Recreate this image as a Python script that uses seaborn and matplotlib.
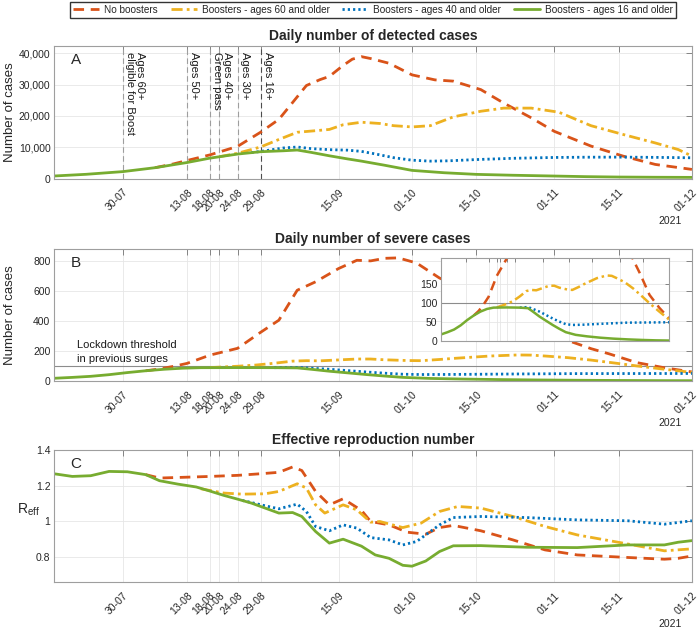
import matplotlib
matplotlib.use("Agg")
import matplotlib.pyplot as plt
import matplotlib.transforms as mtransforms
from matplotlib.ticker import FuncFormatter
import numpy as np
import pandas as pd
import seaborn as sns

START = pd.Timestamp("2021-07-15")
END = pd.Timestamp("2021-12-01")

scenarios = ["No boosters", "Boosters - ages 60 and older",
             "Boosters - ages 40 and older", "Boosters - ages 16 and older"]
colors = ["#D95319", "#EDB120", "#0072BD", "#77AC30"]

tick_dates = ["2021-07-30", "2021-08-13", "2021-08-18", "2021-08-20", "2021-08-24",
              "2021-08-29", "2021-09-15", "2021-10-01", "2021-10-15", "2021-11-01",
              "2021-11-15", "2021-12-01"]
tick_labels = ["30-07", "13-08", "18-08", "20-08", "24-08", "29-08",
               "15-09", "01-10", "15-10", "01-11", "15-11", "01-12"]

event_dates = ["2021-07-30", "2021-08-13", "2021-08-18", "2021-08-20", "2021-08-24", "2021-08-29"]
label_dates = ["2021-07-30", "2021-08-13", "2021-08-18", "2021-08-24", "2021-08-29"]
event_labels = ["Ages 60+\neligible for Boost", "Ages 50+", "Ages 40+\nGreen pass",
                "Ages 30+", "Ages 16+"]

# days after 15-07-2021
# A - daily detected cases
a_red_days = [22, 26, 29, 34, 40, 45, 49, 52, 55, 58, 60, 63, 65, 67, 69, 73, 78, 83, 87,
              93, 98, 104, 109, 117, 124, 131, 139]
a_red = [3500, 4700, 5800, 7600, 10300, 14800, 18900, 24300, 29700, 31600, 32600, 36100,
         38100, 38900, 38300, 36800, 33100, 31500, 31100, 28400, 24100, 19400, 15100,
         10400, 7200, 4550, 2960]
a_yellow_days = [36, 40, 45, 49, 53, 57, 60, 63, 67, 71, 74, 78, 82, 87, 93, 98, 104, 110,
                 117, 124, 131, 136, 139]
a_yellow = [7000, 8100, 10100, 12500, 14800, 15300, 15700, 17200, 18000, 17600, 16900,
            16500, 16900, 19700, 21500, 22500, 22500, 21200, 16900, 14100, 11400, 9300, 7200]
a_blue_days = [43, 46, 50, 53, 56, 60, 64, 67, 70, 74, 78, 82, 86, 92, 100, 109, 116, 123,
               131, 139]
a_blue = [8300, 8900, 9800, 10100, 9600, 9250, 9100, 8700, 7900, 6700, 5900, 5600, 5700,
          6100, 6500, 6770, 6850, 6880, 6800, 6670]
a_green_days = [0, 7, 15, 22, 29, 34, 40, 45, 50, 53, 56, 60, 64, 67, 72, 78, 85, 92, 100,
                109, 116, 123, 131, 139]
a_green = [860, 1400, 2260, 3500, 5160, 6560, 7850, 8600, 8900, 9140, 8400, 7300, 6300,
           5600, 4300, 2650, 1900, 1380, 1100, 850, 650, 530, 460, 420]

# B - daily severe cases
b_red_days = [20, 23, 26, 29, 34, 40, 45, 49, 53, 57, 62, 66, 69, 72, 75, 79, 84, 88, 92,
              96, 100, 104, 108, 113, 117, 121, 127, 133, 139]
b_red = [68, 80, 97, 117, 172, 217, 323, 404, 603, 659, 747, 802, 798, 815, 818, 784, 684,
         630, 570, 500, 430, 370, 315, 258, 215, 180, 122, 88, 60]
b_yellow_days = [34, 36, 40, 44, 48, 52, 55, 58, 62, 66, 69, 72, 77, 80, 84, 87, 91, 95,
                 101, 104, 107, 112, 117, 122, 127, 133, 139]
b_yellow = [89, 92, 98, 106, 118, 132, 135, 134, 140, 146, 146, 141, 136, 135, 143, 150,
            158, 166, 173, 172, 166, 155, 139, 120, 100, 78, 57]
b_blue_days = [48, 53, 56, 60, 64, 68, 72, 76, 80, 86, 93, 100, 113, 126, 139]
b_blue = [88.5, 90, 85, 78, 69, 60, 52, 45, 43, 43.5, 45, 46.5, 49, 49.5, 50]
b_green_days = [0, 4, 8, 12, 16, 20, 24, 28, 32, 40, 48, 53, 56, 60, 64, 68, 72, 76, 82,
                89, 97, 105, 114, 123, 131, 139]
b_green = [18, 24, 31, 42, 56, 68, 78, 85, 88.5, 89, 88.5, 87, 78, 65, 54, 43, 33, 24, 17,
           13, 9.5, 7, 5, 3.5, 2.5, 2]
lockdown_threshold = 100

# C - effective reproduction number
c_red_days = [20, 23, 28, 34, 40, 45, 49, 52, 54, 57, 60, 63, 67, 69, 73, 77, 81, 84, 87,
              93, 100, 107, 114, 124, 133, 136, 139]
c_red = [1.262, 1.243, 1.247, 1.252, 1.258, 1.267, 1.275, 1.305, 1.285, 1.168, 1.093,
         1.127, 1.062, 1.000, 0.981, 0.940, 0.929, 0.966, 0.978, 0.948, 0.897, 0.841,
         0.813, 0.800, 0.789, 0.794, 0.807]
c_yellow_days = [32, 37, 41, 46, 49, 53, 55, 57, 59, 63, 66, 69, 71, 76, 80, 84, 88, 93,
                 100, 107, 114, 124, 133, 139]
c_yellow = [1.183, 1.159, 1.153, 1.155, 1.168, 1.211, 1.187, 1.093, 1.047, 1.093, 1.065,
            0.996, 1.000, 0.966, 0.991, 1.056, 1.084, 1.075, 1.028, 0.972, 0.925, 0.879,
            0.836, 0.847]
c_blue_days = [41, 46, 49, 53, 55, 57, 60, 63, 66, 69, 73, 76, 79, 84, 87, 93, 103, 114,
               125, 133, 139]
c_blue = [1.118, 1.088, 1.071, 1.097, 1.056, 0.972, 0.948, 0.981, 0.963, 0.910, 0.897,
          0.869, 0.888, 0.981, 1.022, 1.028, 1.022, 1.009, 1.004, 0.985, 1.004]
c_green_days = [0, 4, 8, 12, 16, 20, 23, 27, 31, 34, 37, 40, 43, 46, 49, 52, 54, 57, 60,
                63, 67, 70, 73, 76, 78, 81, 84, 87, 93, 103, 114, 125, 133, 136, 139]
c_green = [1.267, 1.252, 1.256, 1.280, 1.278, 1.262, 1.228, 1.209, 1.193, 1.170, 1.146,
           1.125, 1.103, 1.075, 1.047, 1.050, 1.028, 0.944, 0.879, 0.901, 0.862, 0.813,
           0.794, 0.755, 0.750, 0.779, 0.832, 0.864, 0.865, 0.856, 0.854, 0.869, 0.869,
           0.884, 0.893]


def frame(days_list, values_list):
    parts = []
    for name, d, v in zip(scenarios, days_list, values_list):
        parts.append(pd.DataFrame({
            "date": START + pd.to_timedelta(np.array(d, dtype=float), unit="D"),
            "value": v,
            "scenario": name,
        }))
    return pd.concat(parts, ignore_index=True)


df_a = frame([a_red_days, a_yellow_days, a_blue_days, a_green_days],
             [a_red, a_yellow, a_blue, a_green])
df_b = frame([b_red_days, b_yellow_days, b_blue_days, b_green_days],
             [b_red, b_yellow, b_blue, b_green])
df_c = frame([c_red_days, c_yellow_days, c_blue_days, c_green_days],
             [c_red, c_yellow, c_blue, c_green])

sns.set_style("white")
plt.rcParams["font.family"] = ["Liberation Sans", "DejaVu Sans"]
plt.rcParams["axes.edgecolor"] = "0.62"
plt.rcParams["axes.linewidth"] = 0.8

dash_map = dict(zip(scenarios, [(3.8, 2.4), (4, 1.5, 1, 1.5), (0.8, 1.1), ""]))
ticks = pd.to_datetime(tick_dates)

fig = plt.figure(figsize=(7, 6.31), dpi=100)
ax_a = fig.add_axes([0.0771, 0.7168, 0.9114, 0.2103])
ax_b = fig.add_axes([0.0771, 0.3962, 0.9114, 0.2092])
ax_c = fig.add_axes([0.0771, 0.0772, 0.9114, 0.2097])


def draw(ax, df, lw=2.0):
    sns.lineplot(data=df, x="date", y="value", hue="scenario", style="scenario",
                 hue_order=scenarios, style_order=scenarios, palette=colors,
                 dashes=dash_map, linewidth=lw, estimator=None, sort=False,
                 legend=False, ax=ax)


def style_axes(ax, labels=True):
    ax.set_xlim(START, END)
    ax.set_xticks(ticks)
    ax.grid(True, color="0.9", lw=0.6)
    ax.set_axisbelow(True)
    ax.tick_params(direction="in", length=4, width=0.6, color="0.45",
                   labelsize=7.5, labelcolor="0.15", top=True, right=True, pad=2.5)
    ax.set_xlabel("")
    ax.set_ylabel("")
    if labels:
        ax.set_xticklabels(tick_labels)
        off = mtransforms.ScaledTranslation(4 / 72, 0, fig.dpi_scale_trans)
        for lab in ax.get_xticklabels():
            lab.set_rotation(45)
            lab.set_ha("right")
            lab.set_va("top")
            lab.set_rotation_mode("anchor")
            lab.set_transform(lab.get_transform() + off)
        ax.tick_params(axis="x", pad=6)
        ax.text(0.966, -0.316, "2021", transform=ax.transAxes, ha="center",
                va="center", fontsize=7.5, color="0.15")
    else:
        ax.set_xticklabels([])


def cases_label(ax):
    ax.set_ylabel("Number of cases", fontsize=9.5, color="0.15", va="center")
    ax.yaxis.set_label_coords(-0.069, 0.5)


# Panel A
draw(ax_a, df_a)
style_axes(ax_a)
ax_a.set_ylim(0, 42300)
ax_a.set_yticks([0, 10000, 20000, 30000, 40000])
ax_a.yaxis.set_major_formatter(FuncFormatter(lambda v, p: f"{v:,.0f}"))
for i, dt in enumerate(event_dates):
    ax_a.axvline(pd.Timestamp(dt), color="0.3" if i == len(event_dates) - 1 else "0.62",
                 ls=(0, (5, 3)), lw=0.8, zorder=1.5)
for dt, lab in zip(label_dates, event_labels):
    ax_a.annotate(lab, xy=(pd.Timestamp(dt), 1.0), xycoords=("data", "axes fraction"),
                  xytext=(1.5, -4), textcoords="offset points", rotation=270,
                  ha="left", va="top", fontsize=8, linespacing=1.0, color="0.1")
ax_a.set_title("Daily number of detected cases", fontsize=10, fontweight="bold", pad=4)
cases_label(ax_a)
ax_a.text(0.026, 0.95, "A", transform=ax_a.transAxes, ha="left", va="top", fontsize=11)

# Panel B
ax_b.axhline(lockdown_threshold, color="0.55", lw=0.8, zorder=1.5)
draw(ax_b, df_b)
style_axes(ax_b)
ax_b.set_ylim(0, 877)
ax_b.set_yticks([0, 200, 400, 600, 800])
ax_b.text(pd.Timestamp("2021-07-20"), 112, "Lockdown threshold\nin previous surges",
          fontsize=8, ha="left", va="bottom", color="0.1", linespacing=1.5)
ax_b.set_title("Daily number of severe cases", fontsize=10, fontweight="bold", pad=4)
cases_label(ax_b)
ax_b.text(0.026, 0.95, "B", transform=ax_b.transAxes, ha="left", va="top", fontsize=11)

# inset of panel B
ax_in = fig.add_axes([0.63, 0.4591, 0.326, 0.1315])
ax_in.set_facecolor("white")
ax_in.axhline(lockdown_threshold, color="0.55", lw=0.8, zorder=1.5)
draw(ax_in, df_b, lw=1.8)
style_axes(ax_in, labels=False)
ax_in.set_ylim(0, 218)
ax_in.set_yticks([0, 50, 100, 150])
ax_in.tick_params(length=3)

# Panel C
draw(ax_c, df_c)
style_axes(ax_c)
ax_c.set_ylim(0.66, 1.4)
ax_c.set_yticks([0.8, 1.0, 1.2, 1.4])
ax_c.set_yticklabels(["0.8", "1", "1.2", "1.4"])
ax_c.set_title("Effective reproduction number", fontsize=10, fontweight="bold", pad=4)
ax_c.set_ylabel(r"R$_{\mathregular{eff}}$", fontsize=10, rotation=0, ha="right",
                va="center", color="0.15")
ax_c.yaxis.set_label_coords(-0.022, 0.546)
ax_c.text(0.026, 0.95, "C", transform=ax_c.transAxes, ha="left", va="top", fontsize=11)

handles = ax_a.get_lines()[:4]
fig.legend(handles, scenarios, loc="center", bbox_to_anchor=(0.533, 0.9846), ncol=4,
           fontsize=7.2, frameon=True, fancybox=False, edgecolor="0.2",
           framealpha=1, handlelength=2.6, handletextpad=0.5, columnspacing=1.3,
           borderpad=0.3)

fig.savefig("out.png", dpi=100)
